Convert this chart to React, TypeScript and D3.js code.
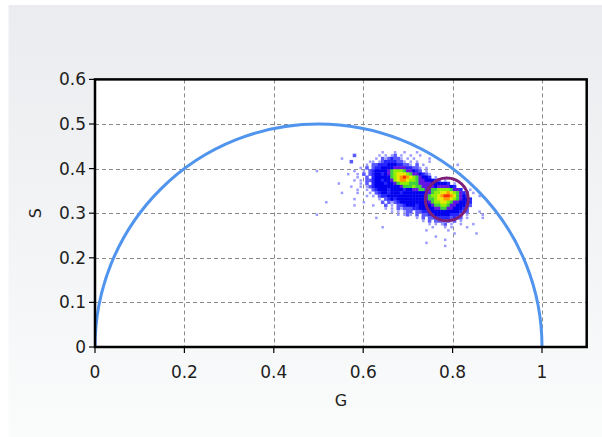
import React from "react";
import * as d3 from "d3";

const WIDTH = 602;
const HEIGHT = 437;

const X_DOMAIN = [0, 1.1];
const Y_DOMAIN = [0, 0.6];
const X_TICKS = [0, 0.2, 0.4, 0.6, 0.8, 1];
const X_TICK_LABELS = ["0", "0.2", "0.4", "0.6", "0.8", "1"];
const Y_TICKS = [0, 0.1, 0.2, 0.3, 0.4, 0.5, 0.6];
const Y_TICK_LABELS = ["0", "0.1", "0.2", "0.3", "0.4", "0.5", "0.6"];
const X_LABEL = "G";
const Y_LABEL = "S";

const SEMICIRCLE_CENTER = [0.5, 0];
const SEMICIRCLE_RADIUS = 0.5;
const ROI_CENTER = [0.787, 0.331];
const ROI_RADIUS = 0.048;

// density image: left edge G, top edge S, cell size (data units)
const DENSITY_ORIGIN = [0.493, 0.44];
const DENSITY_STEP = 0.007;
// levels: '.' empty, 1..9, A
const DENSITY_ROWS = [
  "..........|..........|.1...1..1.|..1.......|..........|........",
  "..........|..2.......|1.1.12.1..|1..1......|..........|........",
  "........1.|.........1|.2123221.1|.1....1...|..........|........",
  "..........|.2.....11.|123333221.|1.1...1...|..........|........",
  "..........|......1.22|3334443322|1.2.1.....|.....1....|........",
  "..........|....1.2.23|3444455553|3221.1....|..........|........",
  "1.........|..1..1.234|4445677765|5432.1....|..........|........",
  "..........|1..1.2.234|4345678887|6554321...|..........|........",
  "..........|...1..2.34|44446789A9|8765443.1.|..........|........",
  "..........|..1.1.2234|4344578998|7765544432|.1........|........",
  ".......1..|....1.2.34|4434456777|6665555444|443.1.....|........",
  "..........|.1..1.1234|4444444566|6766555545|55543..1..|........",
  "..........|...1..1.23|4443444434|4556655667|7776553..1|........",
  "........1.|...1...1.2|3443444344|4444445677|889876532.|1.......",
  "..........|......1.1.|2334444444|4444456778|9AA986543.|..1.....",
  "..........|..1.......|1.23434444|4444456678|8998765443|........",
  "...1......|.....1....|.2.2123444|4444445677|8876554443|........",
  "..........|..1.....1.|..2.1.2234|4434444566|7765544432|........",
  "..........|..........|..1.1.2122|2334444455|665544432.|........",
  "..........|..........|....1.1.12|2.22334444|444444322.|..1.....",
  "1.........|..........|......1.12|1.2.223344|4443332.1.|...1....",
  "..........|.........1|..........|..1.2.2233|3332322.1.|...1....",
  "..........|..........|..........|....1.2.22|2.212.1...|........",
  "..........|..........|..........|......1.1.|12.1..1...|1.......",
  "..........|..........|.1........|.......1..|.1.1....1.|........",
  "..........|..........|..........|.....1....|..1.......|........",
  "..........|..........|..........|..........|....1.....|.1......",
  "..........|..........|..........|........1.|..........|........",
  "..........|..........|..........|..........|.1........|........",
  "..........|..........|..........|.....1....|..........|........",
  "..........|..........|..........|..........|.1........|........",
];
const DENSITY_LEVELS = ["1", "2", "3", "4", "5", "6", "7", "8", "9", "A"];
const DENSITY_COLORS = [
  "#9c9cff",
  "#5a5aff",
  "#2525ff",
  "#0000ee",
  "#6214e4",
  "#3ecf3e",
  "#8ef000",
  "#e8e800",
  "#ff9a00",
  "#ff3000",
];

const FONT = "'DejaVu Sans', sans-serif";

export default function App() {
  const x = d3.scaleLinear().domain(X_DOMAIN).range([95, 586.7]);
  const y = d3.scaleLinear().domain(Y_DOMAIN).range([347, 79.4]);

  const [x0, x1] = x.range();
  const [yb, yt] = y.range();

  const cells: { key: string; cx: number; cy: number; w: number; h: number; color: string; level: number }[] = [];
  DENSITY_ROWS.forEach((rowRaw, r) => {
    const row = rowRaw.replace(/\|/g, "");
    for (let c = 0; c < row.length; c++) {
      const ch = row[c];
      const li = DENSITY_LEVELS.indexOf(ch);
      if (li < 0) continue;
      const g0 = DENSITY_ORIGIN[0] + c * DENSITY_STEP;
      const s0 = DENSITY_ORIGIN[1] - r * DENSITY_STEP;
      const px0 = x(g0);
      const px1 = x(g0 + DENSITY_STEP);
      const py0 = y(s0);
      const py1 = y(s0 - DENSITY_STEP);
      cells.push({
        key: `${r}-${c}`,
        cx: px0,
        cy: py0,
        w: px1 - px0,
        h: py1 - py0,
        color: DENSITY_COLORS[li],
        level: li,
      });
    }
  });

  const rx = x(SEMICIRCLE_CENTER[0] + SEMICIRCLE_RADIUS) - x(SEMICIRCLE_CENTER[0]);
  const ry = y(SEMICIRCLE_CENTER[1]) - y(SEMICIRCLE_CENTER[1] + SEMICIRCLE_RADIUS);
  const semiPath = `M${x(SEMICIRCLE_CENTER[0] - SEMICIRCLE_RADIUS)},${y(SEMICIRCLE_CENTER[1])} A${rx},${ry} 0 0 1 ${x(
    SEMICIRCLE_CENTER[0] + SEMICIRCLE_RADIUS
  )},${y(SEMICIRCLE_CENTER[1])}`;

  const roiRx = x(ROI_RADIUS) - x(0);
  const roiRy = y(0) - y(ROI_RADIUS);

  return (
    <div style={{ position: "absolute", left: 0, top: 0 }}>
      <svg width={WIDTH} height={HEIGHT} style={{ display: "block" }}>
        <defs>
          <linearGradient id="bg" x1="0" y1="0" x2="0" y2="1">
            <stop offset="0" stopColor="#ebecef" />
            <stop offset="1" stopColor="#fafbfb" />
          </linearGradient>
          <clipPath id="plotClip">
            <rect x={x0} y={yt} width={x1 - x0} height={yb - yt} />
          </clipPath>
        </defs>
        <rect x={0} y={0} width={WIDTH} height={HEIGHT} fill="#ffffff" />
        <rect x={8.5} y={5} width={WIDTH - 8.5} height={HEIGHT - 5} fill="url(#bg)" />
        <rect x={x0} y={yt} width={x1 - x0} height={yb - yt} fill="#ffffff" />

        {/* grid */}
        <g stroke="#8a8a8a" strokeWidth={1} strokeDasharray="4,3">
          {X_TICKS.filter((t) => t > 0).map((t) => (
            <line key={"gx" + t} x1={Math.round(x(t)) + 0.5} x2={Math.round(x(t)) + 0.5} y1={yt} y2={yb} />
          ))}
          {Y_TICKS.filter((t) => t > 0 && t < Y_DOMAIN[1]).map((t) => (
            <line key={"gy" + t} x1={x0} x2={x1} y1={Math.round(y(t)) + 0.5} y2={Math.round(y(t)) + 0.5} />
          ))}
        </g>

        {/* density cloud */}
        <g clipPath="url(#plotClip)">
          {cells.map((d) => {
            const shrink = d.level === 0 ? 0.8 : 1;
            const w = d.w * shrink + (shrink === 1 ? 0.4 : 0);
            const h = d.h * shrink + (shrink === 1 ? 0.4 : 0);
            return (
              <rect
                key={d.key}
                x={d.cx + (d.w - w) / 2}
                y={d.cy + (d.h - h) / 2}
                width={w}
                height={h}
                fill={d.color}
              />
            );
          })}
        </g>

        {/* universal semicircle */}
        <path d={semiPath} fill="none" stroke="#5094ee" strokeWidth={3} clipPath="url(#plotClip)" />

        {/* ROI circle */}
        <ellipse
          cx={x(ROI_CENTER[0])}
          cy={y(ROI_CENTER[1])}
          rx={roiRx}
          ry={roiRy}
          fill="none"
          stroke="#7e1f78"
          strokeWidth={3}
        />

        {/* frame */}
        <rect x={x0} y={yt} width={x1 - x0} height={yb - yt} fill="none" stroke="#000" strokeWidth={2.5} />

        {/* ticks and labels */}
        <g fontFamily={FONT} fontSize={17} fill="#1e1e1e">
          {X_TICKS.map((t, i) => (
            <g key={"xt" + t}>
              <line x1={x(t)} x2={x(t)} y1={yb} y2={yb + 6} stroke="#000" strokeWidth={1.2} />
              <text x={x(t)} y={yb + 31} textAnchor="middle">
                {X_TICK_LABELS[i]}
              </text>
            </g>
          ))}
          {Y_TICKS.map((t, i) => (
            <g key={"yt" + t}>
              <line x1={x0 - 6} x2={x0} y1={y(t)} y2={y(t)} stroke="#000" strokeWidth={1.2} />
              <text x={x0 - 9} y={y(t) + 6} textAnchor="end">
                {Y_TICK_LABELS[i]}
              </text>
            </g>
          ))}
          <text x={(x0 + x1) / 2} y={406} textAnchor="middle" fontSize={16}>
            {X_LABEL}
          </text>
          <text
            transform={`translate(41,${(yt + yb) / 2}) rotate(-90)`}
            textAnchor="middle"
            fontSize={16}
          >
            {Y_LABEL}
          </text>
        </g>
      </svg>
    </div>
  );
}
